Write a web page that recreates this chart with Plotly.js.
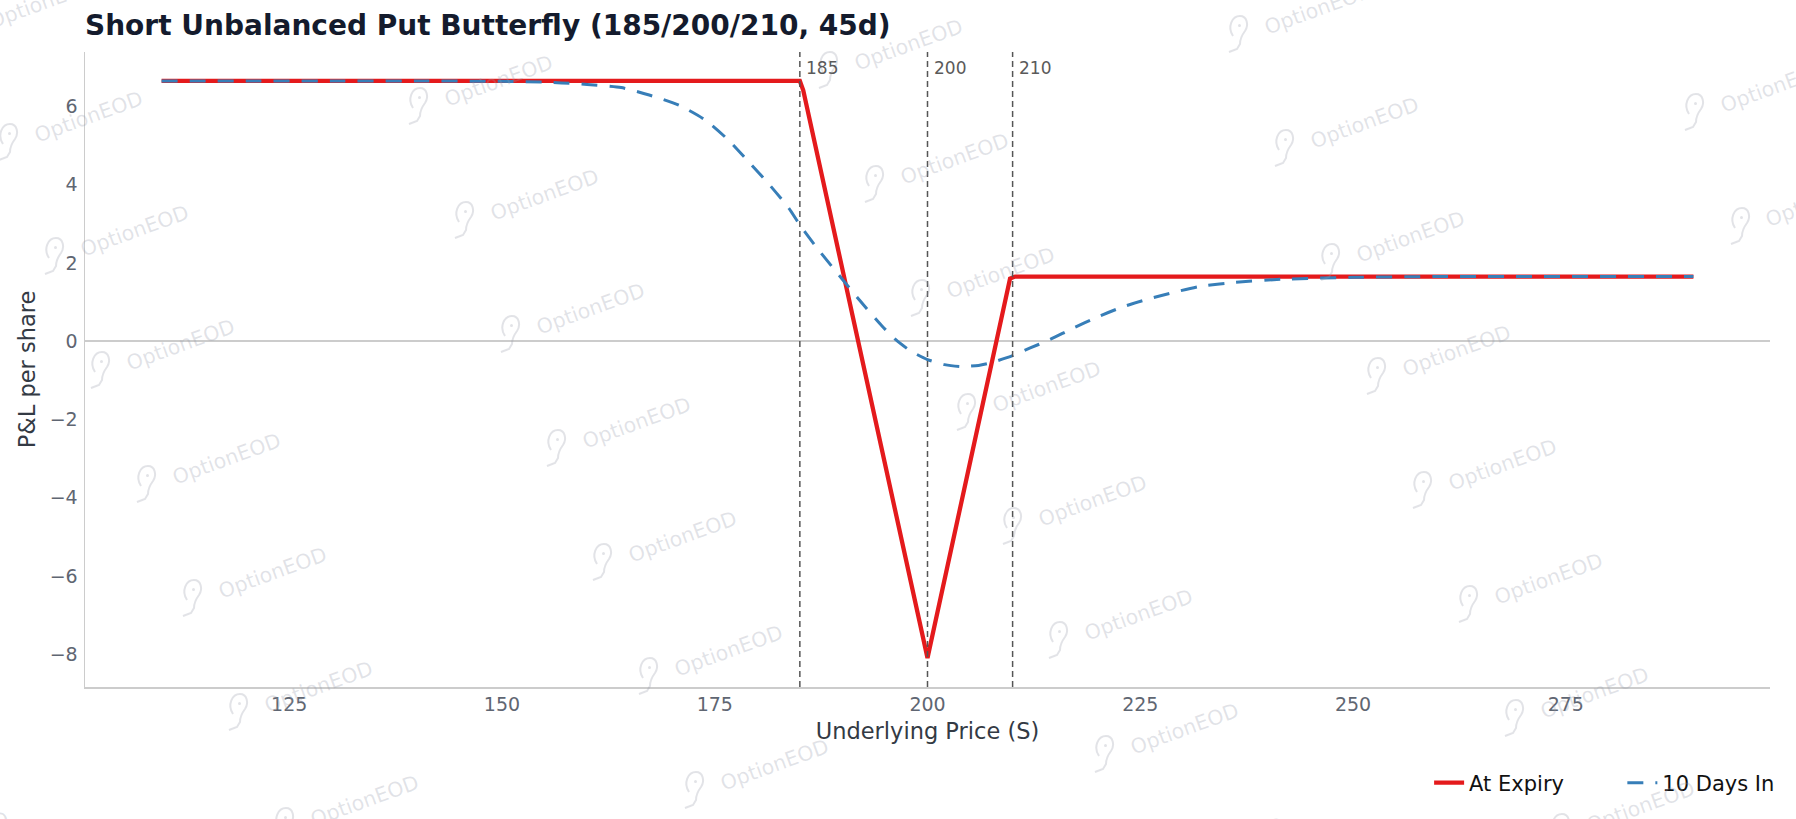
<!DOCTYPE html>
<html>
<head>
<meta charset="utf-8">
<script src="https://cdn.plot.ly/plotly-3.0.1.min.js"></script>
<style>
  html, body { margin: 0; padding: 0; background: #fff; }
  #chart { width: 1796px; height: 819px; }
</style>
</head>
<body>
<div id="chart"></div>
<script>
// payoff at expiry
var expiryX = [110, 185.0, 185.4, 200.0, 209.7, 210.3, 290]
var expiryY = [6.65, 6.65, 6.41, -8.10, 1.60, 1.65, 1.65]

// value 10 days in
var daysX = [110, 120, 130, 140, 150, 155, 157, 160, 164, 167.3, 170.8, 173.9, 176.6, 179, 181.3, 183.7, 185,
  187.2, 190.3, 192, 194.6, 196.2, 198, 200, 202, 204, 206, 207.5, 210, 212, 214.2,
  217, 220, 223, 226, 229, 232, 236, 241.5, 250, 260, 290]
var daysY = [6.65, 6.65, 6.65, 6.65, 6.64, 6.62, 6.60, 6.56, 6.48, 6.29, 6.03, 5.65, 5.14, 4.58, 4.03, 3.40, 2.97,
  2.33, 1.50, 1.05, 0.40, 0.05, -0.25, -0.47, -0.60, -0.65, -0.62, -0.55, -0.37, -0.18, 0.02,
  0.32, 0.62, 0.88, 1.08, 1.25, 1.40, 1.50, 1.58, 1.63, 1.65, 1.65]

var strikes = [185, 200, 210]
var xTicks = [125, 150, 175, 200, 225, 250, 275]
var yTicks = [-8, -6, -4, -2, 0, 2, 4, 6]

var FONT = 'DejaVu Sans, sans-serif'
var W = 1796, H = 819
var M = { l: 85, r: 26, t: 52, b: 132 }
var PW = W - M.l - M.r, PH = H - M.t - M.b
var WM_COLOR = 'rgba(150,155,170,0.28)'
var GAP = '\u00a0\u00a0\u00a0\u00a0\u00a0\u00a0\u00a0\u00a0' // wider legend spacing

function strikeShapes() {
  return strikes.map(function (k) {
    return {
      type: 'line', xref: 'x', yref: 'paper',
      x0: k, x1: k, y0: 0, y1: 1,
      line: { color: '#555555', width: 1.5, dash: '6px,4px' }
    }
  })
}

function strikeLabels() {
  return strikes.map(function (k) {
    return {
      x: k, xref: 'x', y: 0.975, yref: 'paper',
      text: String(k), showarrow: false,
      xanchor: 'left', yanchor: 'middle', xshift: 4,
      font: { family: FONT, size: 17, color: '#5a5a5a' }
    }
  })
}

// tiled "OptionEOD" watermark, centres in page pixels
function watermarkSpots() {
  var spots = []
  for (var a = -2; a <= 8; a++) {
    for (var b = -1; b <= 5; b++) {
      var px = 88 + 46 * a + 410 * b
      var py = 117 + 114 * a - 36 * b
      if (px < -60 || px > W + 60 || py < -20 || py > H + 30) continue
      spots.push([px, py])
    }
  }
  return spots
}

function toPaper(px, py) {
  return [(px - M.l) / PW, (H - M.b - py) / PH]
}

function watermarkTexts() {
  return watermarkSpots().map(function (s) {
    var p = toPaper(s[0], s[1])
    return {
      x: p[0], xref: 'paper', y: p[1], yref: 'paper',
      text: 'OptionEOD', showarrow: false, textangle: -20,
      xanchor: 'center', yanchor: 'middle',
      font: { family: FONT, size: 20.5, color: WM_COLOR }
    }
  })
}

// little balloon logo left of each watermark
function watermarkLogos() {
  var out = []
  watermarkSpots().forEach(function (s) {
    var p = toPaper(s[0] - 80, s[1] + 24)
    out.push({
      type: 'path', xref: 'paper', yref: 'paper',
      xsizemode: 'pixel', ysizemode: 'pixel',
      xanchor: p[0], yanchor: p[1],
      path: 'M -5,-3 C -11,6 -6,17 2,17 C 9,17 11,8 7,2 C 4,-2 2,-5 2,-11 L -1,-16 L -9,-19',
      line: { color: WM_COLOR, width: 2 }
    })
    out.push({
      type: 'circle', xref: 'paper', yref: 'paper',
      xsizemode: 'pixel', ysizemode: 'pixel',
      xanchor: p[0], yanchor: p[1],
      x0: 0, x1: 3, y0: 6, y1: 9,
      fillcolor: WM_COLOR, line: { width: 0 }
    })
  })
  return out
}

var data = [
  {
    x: expiryX, y: expiryY, name: 'At Expiry' + GAP,
    type: 'scatter', mode: 'lines',
    line: { color: '#e41a1c', width: 4.3 }
  },
  {
    x: daysX, y: daysY, name: '10 Days In',
    type: 'scatter', mode: 'lines',
    line: { color: '#377eb8', width: 3, dash: '16px,12px', shape: 'spline', smoothing: 0.6 }
  }
]

var layout = {
  width: W, height: H,
  margin: M,
  paper_bgcolor: '#ffffff',
  plot_bgcolor: '#ffffff',
  font: { family: FONT, color: '#333a44' },
  title: {
    text: '<b>Short Unbalanced Put Butterfly (185/200/210, 45d)</b>',
    font: { family: FONT, size: 28, color: '#141b2d' },
    x: 0, xref: 'paper', xanchor: 'left',
    y: 1 - 25 / H, yref: 'container', yanchor: 'middle'
  },
  xaxis: {
    range: [101, 299],
    tickvals: xTicks,
    ticktext: xTicks.map(String),
    showgrid: false, zeroline: false,
    showline: true, linecolor: '#cccccc', linewidth: 1.5,
    ticks: '',
    tickfont: { family: FONT, size: 19, color: '#5f6672' },
    title: { text: 'Underlying Price (S)', standoff: 9, font: { family: FONT, size: 22.5, color: '#333a44' } }
  },
  yaxis: {
    range: [-8.84, 7.39],
    tickvals: yTicks,
    showgrid: false,
    zeroline: true, zerolinecolor: '#cccccc', zerolinewidth: 1.5,
    showline: true, linecolor: '#cccccc', linewidth: 1.5,
    ticks: '', ticklabelstandoff: 2,
    tickfont: { family: FONT, size: 19, color: '#5f6672' },
    title: { text: 'P&L per share', standoff: 8, font: { family: FONT, size: 22.5, color: '#333a44' } }
  },
  showlegend: true,
  legend: {
    orientation: 'h',
    x: 1.006, xanchor: 'right',
    y: -(783 - (H - M.b)) / PH, yanchor: 'middle',
    font: { family: FONT, size: 21, color: '#111111' },
    bgcolor: 'rgba(0,0,0,0)'
  },
  shapes: strikeShapes().concat(watermarkLogos()),
  annotations: watermarkTexts().concat(strikeLabels())
}

Plotly.newPlot('chart', data, layout, { displayModeBar: false, staticPlot: true })
</script>
</body>
</html>
